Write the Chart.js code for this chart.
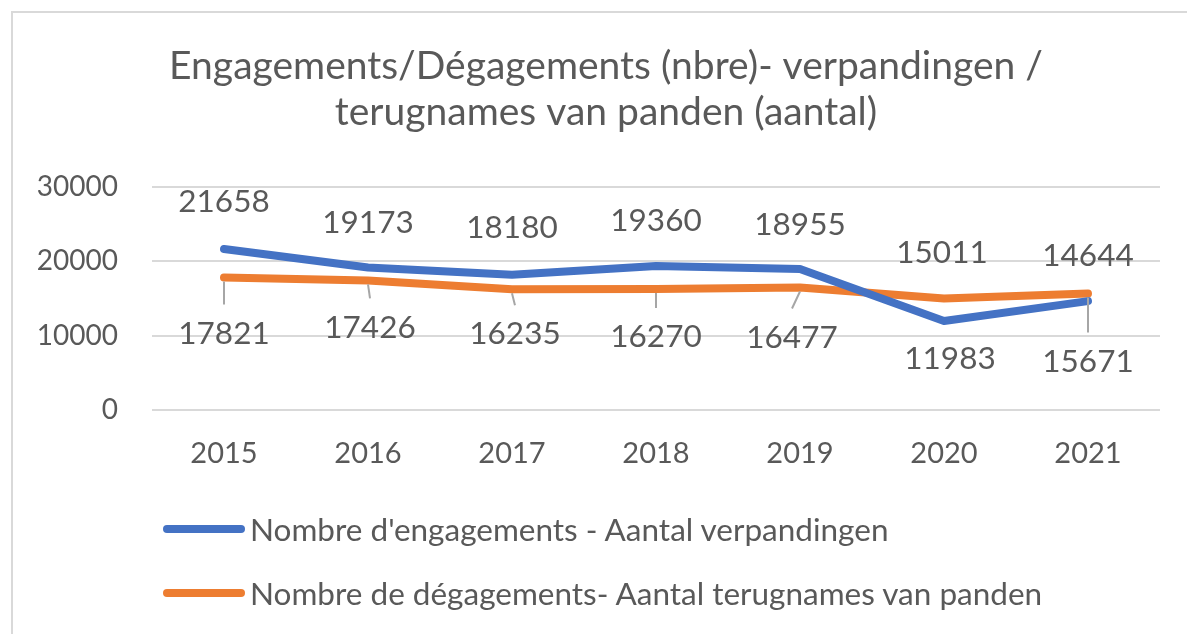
<!DOCTYPE html>
<html>
<head>
<meta charset="utf-8">
<script src="https://cdn.jsdelivr.net/npm/chart.js@4/dist/chart.umd.min.js"></script>
<style>
  html, body { margin: 0; padding: 0; background: #ffffff; overflow: hidden; }
  #wrap { position: relative; width: 1187px; height: 634px; overflow: hidden; background: #fff; }
  #frame { position: absolute; left: 11px; top: 11px; width: 1300px; height: 700px;
           border-top: 2px solid #d9d9d9; border-left: 2px solid #d9d9d9; box-sizing: border-box; }
  #c { position: absolute; left: 0; top: 0; }
  #legend { position: absolute; left: 163px; top: 507px; font-family: Lato, sans-serif;
            font-size: 31.5px; color: #595959; }
  .item { display: flex; align-items: center; height: 44px; margin-bottom: 20px; white-space: nowrap; }
  .swatch { width: 82px; height: 8px; border-radius: 4px; margin-right: 5px; }
</style>
</head>
<body>
<div id="wrap">
  <div id="frame"></div>
  <canvas id="c" width="1212" height="634"></canvas>
  <div id="legend"></div>
</div>
<script>
const categories = ['2015', '2016', '2017', '2018', '2019', '2020', '2021'];
const engagements = [21658, 19173, 18180, 19360, 18955, 11983, 14644];
const degagements = [17821, 17426, 16235, 16270, 16477, 15011, 15671];
const yTicks = [0, 10000, 20000, 30000];
const seriesNames = [
  "Nombre d'engagements - Aantal verpandingen",
  "Nombre de dégagements- Aantal terugnames van panden"
];
const titleLines = [
  'Engagements/Dégagements (nbre)- verpandingen /',
  'terugnames van panden (aantal)'
];

const GREY = '#595959';

// label layout (pixel offsets of each value label relative to its point)
const labelLayout = {
  dy: [
    [-47, -45, -47, -45, -44, 38, -45],
    [56, 47, 45, 48, 50, -46, 68]
  ],
  dx: [
    [0, 0, 0, 0, 0, 6, 0],
    [0, 2, 3, 0, -8, -2, 0]
  ],
  leader: [
    [false, false, false, false, false, false, false],
    [true, true, true, true, true, false, true]
  ]
};

const labelPlugin = {
  id: 'valueLabels',
  afterDatasetsDraw(chart) {
    const ctx = chart.ctx;
    ctx.save();
    chart.data.datasets.forEach((ds, di) => {
      const meta = chart.getDatasetMeta(di);
      meta.data.forEach((pt, i) => {
        const lx = pt.x + labelLayout.dx[di][i];
        const ly = pt.y + labelLayout.dy[di][i];
        if (labelLayout.leader[di][i]) {
          ctx.strokeStyle = '#a6a6a6';
          ctx.lineWidth = 2;
          ctx.beginPath();
          ctx.moveTo(pt.x, pt.y + 4);
          ctx.lineTo(lx, ly - 29);
          ctx.stroke();
        }
        ctx.fillStyle = GREY;
        ctx.font = '31.5px Lato, sans-serif';
        ctx.textAlign = 'center';
        ctx.textBaseline = 'middle';
        ctx.fillText(String(ds.data[i]), lx, ly);
      });
    });
    ctx.restore();
  }
};

const chart = new Chart(document.getElementById('c'), {
  type: 'line',
  data: {
    labels: categories,
    datasets: [
      { label: seriesNames[0], data: engagements, borderColor: '#4472c4', backgroundColor: '#4472c4',
        borderWidth: 8, pointRadius: 0, tension: 0, borderCapStyle: 'round', borderJoinStyle: 'round' },
      { label: seriesNames[1], data: degagements, borderColor: '#ed7d31', backgroundColor: '#ed7d31',
        borderWidth: 8, pointRadius: 0, tension: 0, borderCapStyle: 'round', borderJoinStyle: 'round' }
    ]
  },
  options: {
    responsive: false,
    animation: false,
    layout: { padding: 0 },
    plugins: {
      legend: { display: false },
      tooltip: { enabled: false },
      title: {
        display: true,
        text: titleLines,
        color: GREY,
        font: { family: 'Lato, sans-serif', size: 39, weight: 'normal', lineHeight: '46px' },
        padding: { top: 43, bottom: 52 }
      }
    },
    scales: {
      x: {
        offset: true,
        grid: { display: false, drawTicks: false },
        border: { display: false },
        ticks: { color: GREY, font: { family: 'Lato, sans-serif', size: 29 }, padding: 26, maxRotation: 0 },
        afterFit(scale) { scale.height = 224; }
      },
      y: {
        min: 0, max: 30000,
        afterBuildTicks(scale) { scale.ticks = yTicks.map(v => ({ value: v })); },
        grid: { color: '#d9d9d9', lineWidth: 2, drawTicks: false },
        border: { display: false },
        ticks: { color: GREY, font: { family: 'Lato, sans-serif', size: 28 }, padding: 34,
                 callback: v => String(v) },
        afterFit(scale) { scale.width = 152; }
      },
      yRight: {
        position: 'right',
        min: 0, max: 1,
        grid: { display: false, drawTicks: false },
        border: { display: false },
        ticks: { display: false },
        afterFit(scale) { scale.width = 52; }
      }
    }
  },
  plugins: [labelPlugin]
});

// legend built from the chart's datasets
const legendEl = document.getElementById('legend');
chart.data.datasets.forEach(ds => {
  const item = document.createElement('div');
  item.className = 'item';
  const sw = document.createElement('div');
  sw.className = 'swatch';
  sw.style.background = ds.borderColor;
  const txt = document.createElement('span');
  txt.textContent = ds.label;
  item.appendChild(sw);
  item.appendChild(txt);
  legendEl.appendChild(item);
});
</script>
</body>
</html>
